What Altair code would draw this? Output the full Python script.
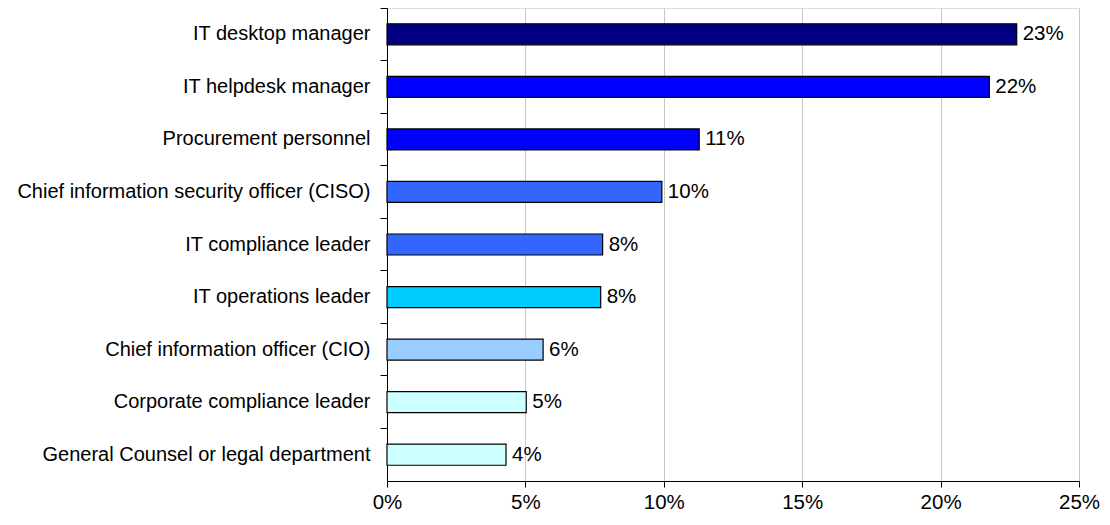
import altair as alt
import pandas as pd

categories = [
    "IT desktop manager",
    "IT helpdesk manager",
    "Procurement personnel",
    "Chief information security officer (CISO)",
    "IT compliance leader",
    "IT operations leader",
    "Chief information officer (CIO)",
    "Corporate compliance leader",
    "General Counsel or legal department",
]
values = [22.75, 21.76, 11.28, 9.93, 7.79, 7.72, 5.64, 5.03, 4.30]
labels = ["23%", "22%", "11%", "10%", "8%", "8%", "6%", "5%", "4%"]
colors = ["#000080", "#0000FF", "#0000FF", "#3366FF", "#3366FF",
          "#00CCFF", "#99CCFF", "#CCFFFF", "#CCFFFF"]
x_ticks = [0, 5, 10, 15, 20, 25]

df = pd.DataFrame({"category": categories, "value": values, "label": labels})

FONT = "Liberation Sans"
FS = 20.5

y_enc = alt.Y(
    "category:N",
    sort=categories,
    scale=alt.Scale(paddingInner=0, paddingOuter=0),
    axis=alt.Axis(
        title=None,
        bandPosition=0,
        tickSize=7,
        tickColor="#000000",
        domainColor="#000000",
        labelPadding=10,
        labelFont=FONT,
        labelFontSize=20,
        labelColor="#000000",
        labelLimit=400,
        grid=False,
    ),
)

x_enc = alt.X(
    "value:Q",
    scale=alt.Scale(domain=[0, 25], nice=False),
    axis=alt.Axis(
        title=None,
        values=x_ticks,
        labelExpr="datum.value + '%'",
        labelFlush=False,
        tickSize=6,
        tickColor="#000000",
        domainColor="#000000",
        gridColor="#c8c8c8",
        gridWidth=1,
        labelPadding=5,
        labelFont=FONT,
        labelFontSize=FS,
        labelColor="#000000",
    ),
)

bars = alt.Chart(df).mark_bar(
    height=alt.RelativeBandSize(0.4),
    stroke="#000000",
    strokeWidth=1.2,
).encode(
    y=y_enc,
    x=x_enc,
    color=alt.Color("category:N", scale=alt.Scale(domain=categories, range=colors), legend=None),
)

text = alt.Chart(df).mark_text(
    align="left", baseline="middle", dx=6, font=FONT, fontSize=FS, color="#000000"
).encode(
    y=alt.Y("category:N", sort=categories),
    x=alt.X("value:Q"),
    text="label:N",
)

chart = (bars + text).properties(
    width=692,
    height=473,
    autosize=alt.AutoSizeParams(type="none"),
    padding={"left": 379, "top": 0, "right": 22, "bottom": 33},
).configure_view(stroke=None).configure(background="#ffffff")

chart.save("out.html", embed_options={"renderer": "svg", "actions": False})
